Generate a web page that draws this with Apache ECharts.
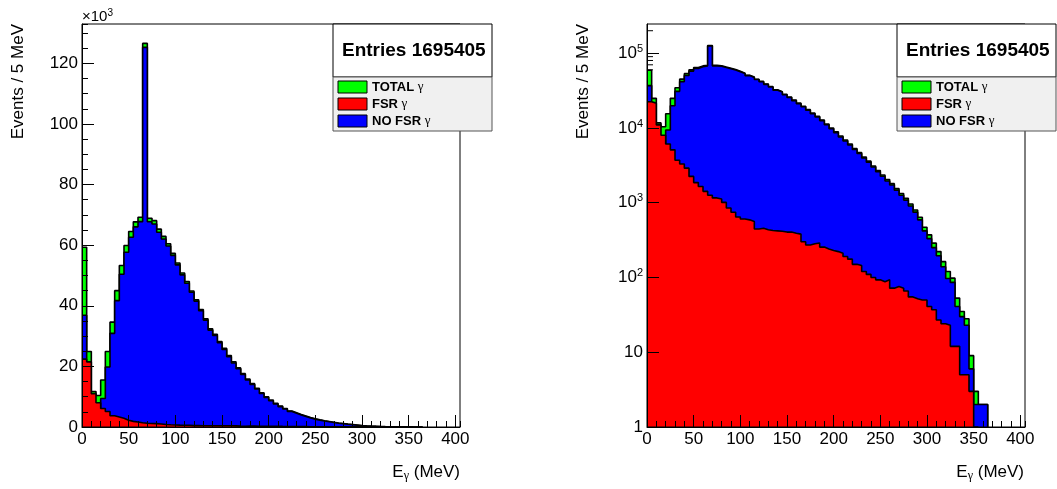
<!DOCTYPE html>
<html><head><meta charset="utf-8">
<script src="https://cdn.jsdelivr.net/npm/echarts@6/dist/echarts.min.js"></script>
<style>html,body{margin:0;padding:0;background:#fff}#c{width:1057px;height:489px}</style>
</head><body><div id="c"></div>
<script>
// ---------------- data (bins of 5 MeV, lower edge = index*5) ----------------
const BIN = 5;
const total = [59300,24900,11700,10400,15500,24900,34600,45000,53300,59900,
 64500,67700,69200,126600,68900,68100,65300,62900,60500,57300,
 54100,50800,48000,44900,42000,38800,35700,32400,30600,28200,
 26000,23600,21500,19500,17600,15800,14300,12800,11300,10000,
 8900,7800,6900,6100,5300,4700,4100,3600,3100,2700,
 2350,2050,1800,1550,1330,1150,960,800,640,470,
 372,288,222,163,120,98,53,35,28,9,
 3,2,2,0,0,0,0,0,0,0,0];
const fsr = [22400,21500,11000,8000,6100,5100,3700,3300,2900,2250,
 1860,1650,1420,1260,1160,1120,1010,850,745,645,
 605,590,560,445,455,435,425,420,415,405,
 405,390,380,300,272,282,290,255,240,229,
 222,211,191,176,150,145,120,110,100,93,
 88,93,72,76,72,66,55,52,50,50,
 41,37,27,24,23,12,12,5,5,3,
 1,0,0,0,0,0,0,0,0,0,0];
const nofsr = [36900,3400,700,2400,9400,19800,30900,41700,50400,57650,
 62640,66050,67780,125300,67740,66980,64290,62050,59755,56655,
 53495,50210,47440,44455,41545,38365,35275,31980,30185,27795,
 25595,23210,21120,19200,17328,15518,14010,12545,11060,9771,
 8678,7589,6709,5924,5150,4555,3980,3490,3000,2607,
 2262,1957,1728,1474,1258,1084,905,748,590,420,
 331,251,195,139,97,86,41,30,23,6,
 2,2,2,0,0,0,0,0,0,0,0];
const xTickLabels = ['0','50','100','150','200','250','300','350','400'];
const linTickLabels = ['0','20','40','60','80','100','120'];
const logTickLabels = ['{a|1}','{a|10}','{a|10}{s|2}','{a|10}{s|3}','{a|10}{s|4}','{a|10}{s|5}'];
const logMinorTicks = [200000, 90000, 80000, 70000, 60000];
const entriesText = 'Entries 1695405';
const legendNames = ['TOTAL', 'FSR', 'NO FSR'];
const legendColors = ['#00ff00', '#ff0000', '#0000ff'];

// ---------------- helpers ----------------
const FONT = 'Liberation Sans, Arial, Helvetica, sans-serif';
function stepData(vals, floor) {
  let last = vals.length - 1;
  while (last >= 0 && !(vals[last] > 0)) last--;
  const pts = [];
  for (let i = 0; i <= last; i++) pts.push([i * BIN, floor != null ? Math.max(vals[i], floor) : vals[i]]);
  pts.push([(last + 1) * BIN, floor != null ? floor : 0]);
  return pts;
}
function hist(vals, color, xi, yi, floor, z) {
  return {type:'line', xAxisIndex:xi, yAxisIndex:yi, data: stepData(vals, floor), step:'end',
    symbol:'none', showSymbol:false, silent:true, animation:false, clip:true, z:z,
    lineStyle:{color:'#000', width:1.6}, areaStyle:{color:color, opacity:1, origin:'start'}};
}
function xAxes(g) {
  return [
    {gridIndex:g, type:'value', min:0, max:405, interval:50, position:'bottom', z:20,
     axisLine:{show:true, onZero:false, lineStyle:{color:'#000', width:1}},
     axisTick:{show:true, inside:true, length:12, lineStyle:{color:'#000', width:1}},
     axisLabel:{color:'#000', fontSize:17, fontFamily:FONT, margin:4, showMaxLabel:false,
       formatter: v => (v % 50 === 0 && v <= 400) ? xTickLabels[v / 50] : ''},
     splitLine:{show:false}},
    {gridIndex:g, type:'value', min:0, max:405, interval:10, position:'bottom', z:20,
     axisLine:{show:false}, axisTick:{show:true, inside:true, length:6, lineStyle:{color:'#000', width:1}},
     axisLabel:{show:false}, splitLine:{show:false}}
  ];
}
function legendBox(x0) {
  const els = [
    {type:'rect', shape:{x:x0, y:24, width:159, height:53}, style:{fill:'#fff', stroke:'#000', lineWidth:1}, z:100},
    {type:'text', x:x0 + 9, y:51, style:{text:entriesText, fontSize:19, fontWeight:'bold', fontFamily:FONT, fill:'#000',
      align:'left', verticalAlign:'middle'}, z:101},
    {type:'rect', shape:{x:x0, y:77, width:159, height:54}, style:{fill:'#f0f0f0', stroke:'#555', lineWidth:1}, z:100}
  ];
  const rows = [87, 104, 121];
  for (let k = 0; k < 3; k++) {
    els.push({type:'rect', shape:{x:x0 + 5, y:rows[k] - 6, width:29, height:12},
      style:{fill:legendColors[k], stroke:'#000', lineWidth:1}, z:101});
    els.push({type:'text', x:x0 + 39, y:rows[k], z:101, style:{
      text:'{n|' + legendNames[k] + ' }{g|γ}', align:'left', verticalAlign:'middle',
      rich:{n:{fontSize:13, fontWeight:'bold', fontFamily:FONT, fill:'#000', color:'#000'},
            g:{fontSize:13, fontFamily:'Liberation Serif, DejaVu Serif, serif', fill:'#000', color:'#000'}}}});
  }
  return els;
}
function axisTitles(xRight, yTitleX) {
  return [
    {type:'text', x:yTitleX, y:24, rotation:Math.PI / 2, z:50, style:{text:'Events / 5 MeV', fontSize:17, fontFamily:FONT,
      fill:'#000', align:'right', verticalAlign:'middle'}},
    {type:'text', x:xRight, y:472, z:50, style:{text:'{e|E}{g|γ}{e| (MeV)}', align:'right', verticalAlign:'middle',
      rich:{e:{fontSize:17, fontFamily:FONT, lineHeight:20, fill:'#000', color:'#000'},
            g:{fontSize:12, fontFamily:'Liberation Serif, DejaVu Serif, serif', lineHeight:12, verticalAlign:'bottom', fill:'#000', color:'#000'}}}}
  ];
}

const chart = echarts.init(document.getElementById('c'), null, {renderer:'canvas'});
const option = {
  animation:false,
  backgroundColor:'#fff',
  grid:[
    {left:82, top:24, width:378, height:403, show:true, borderColor:'#000', borderWidth:1, backgroundColor:'transparent', z:30},
    {left:647, top:24, width:378, height:403, show:true, borderColor:'#000', borderWidth:1, backgroundColor:'transparent', z:30}
  ],
  xAxis:[...xAxes(0), ...xAxes(1)],
  yAxis:[
    {gridIndex:0, type:'value', min:0, max:133000, interval:20000, position:'left', z:20,
     axisLine:{show:true, lineStyle:{color:'#000', width:1}},
     axisTick:{show:true, inside:true, length:12, lineStyle:{color:'#000', width:1}},
     axisLabel:{color:'#000', fontSize:17, fontFamily:FONT, margin:4, showMaxLabel:false,
       formatter: v => (v % 20000 === 0 && v <= 120000) ? linTickLabels[v / 20000] : ''},
     splitLine:{show:false}},
    {gridIndex:0, type:'value', min:0, max:133000, interval:5000, position:'left', z:20,
     axisLine:{show:false}, axisTick:{show:true, inside:true, length:6, lineStyle:{color:'#000', width:1}},
     axisLabel:{show:false}, splitLine:{show:false}},
    {gridIndex:1, type:'log', logBase:10, min:1, max:246000, position:'left', z:20,
     axisLine:{show:true, lineStyle:{color:'#000', width:1}},
     axisTick:{show:true, inside:true, length:12, lineStyle:{color:'#000', width:1}},
     axisLabel:{margin:4, showMaxLabel:false,
       formatter: v => { const e = Math.log10(v); const r = Math.round(e);
         return (Math.abs(e - r) < 1e-6 && r >= 0 && r < logTickLabels.length) ? logTickLabels[r] : ''; },
       rich:{a:{fontSize:17, fontFamily:FONT, color:'#000', lineHeight:20},
             s:{fontSize:11, fontFamily:FONT, color:'#000', lineHeight:8, verticalAlign:'top'}}},
     splitLine:{show:false}}
  ],
  series:[
    hist(total, '#00ff00', 0, 0, null, 2),
    hist(nofsr, '#0000ff', 0, 0, null, 3),
    hist(fsr, '#ff0000', 0, 0, null, 4),
    hist(total, '#00ff00', 2, 2, 1, 2),
    hist(nofsr, '#0000ff', 2, 2, 1, 3),
    hist(fsr, '#ff0000', 2, 2, 1, 4),
    {type:'custom', xAxisIndex:2, yAxisIndex:2, silent:true, z:25, clip:false,
     data: logMinorTicks.map(v => [0, v]),
     renderItem: (params, api) => {
       const p = api.coord([0, api.value(1)]);
       return {type:'line', shape:{x1:p[0], y1:p[1], x2:p[0] + 6, y2:p[1]}, style:{stroke:'#000', lineWidth:1}};
     }}
  ],
  graphic:[
    {type:'text', x:82, y:17, z:50, style:{text:'{a|×10}{s|3}', align:'left', verticalAlign:'middle',
      rich:{a:{fontSize:15, fontFamily:FONT, lineHeight:18, color:'#000', fill:'#000'},
            s:{fontSize:10, fontFamily:FONT, lineHeight:8, verticalAlign:'top', color:'#000', fill:'#000'}}}},
    ...axisTitles(460, 18),
    ...axisTitles(1024, 583),
    ...legendBox(333),
    ...legendBox(897)
  ]
};
chart.setOption(option);
</script></body></html>
